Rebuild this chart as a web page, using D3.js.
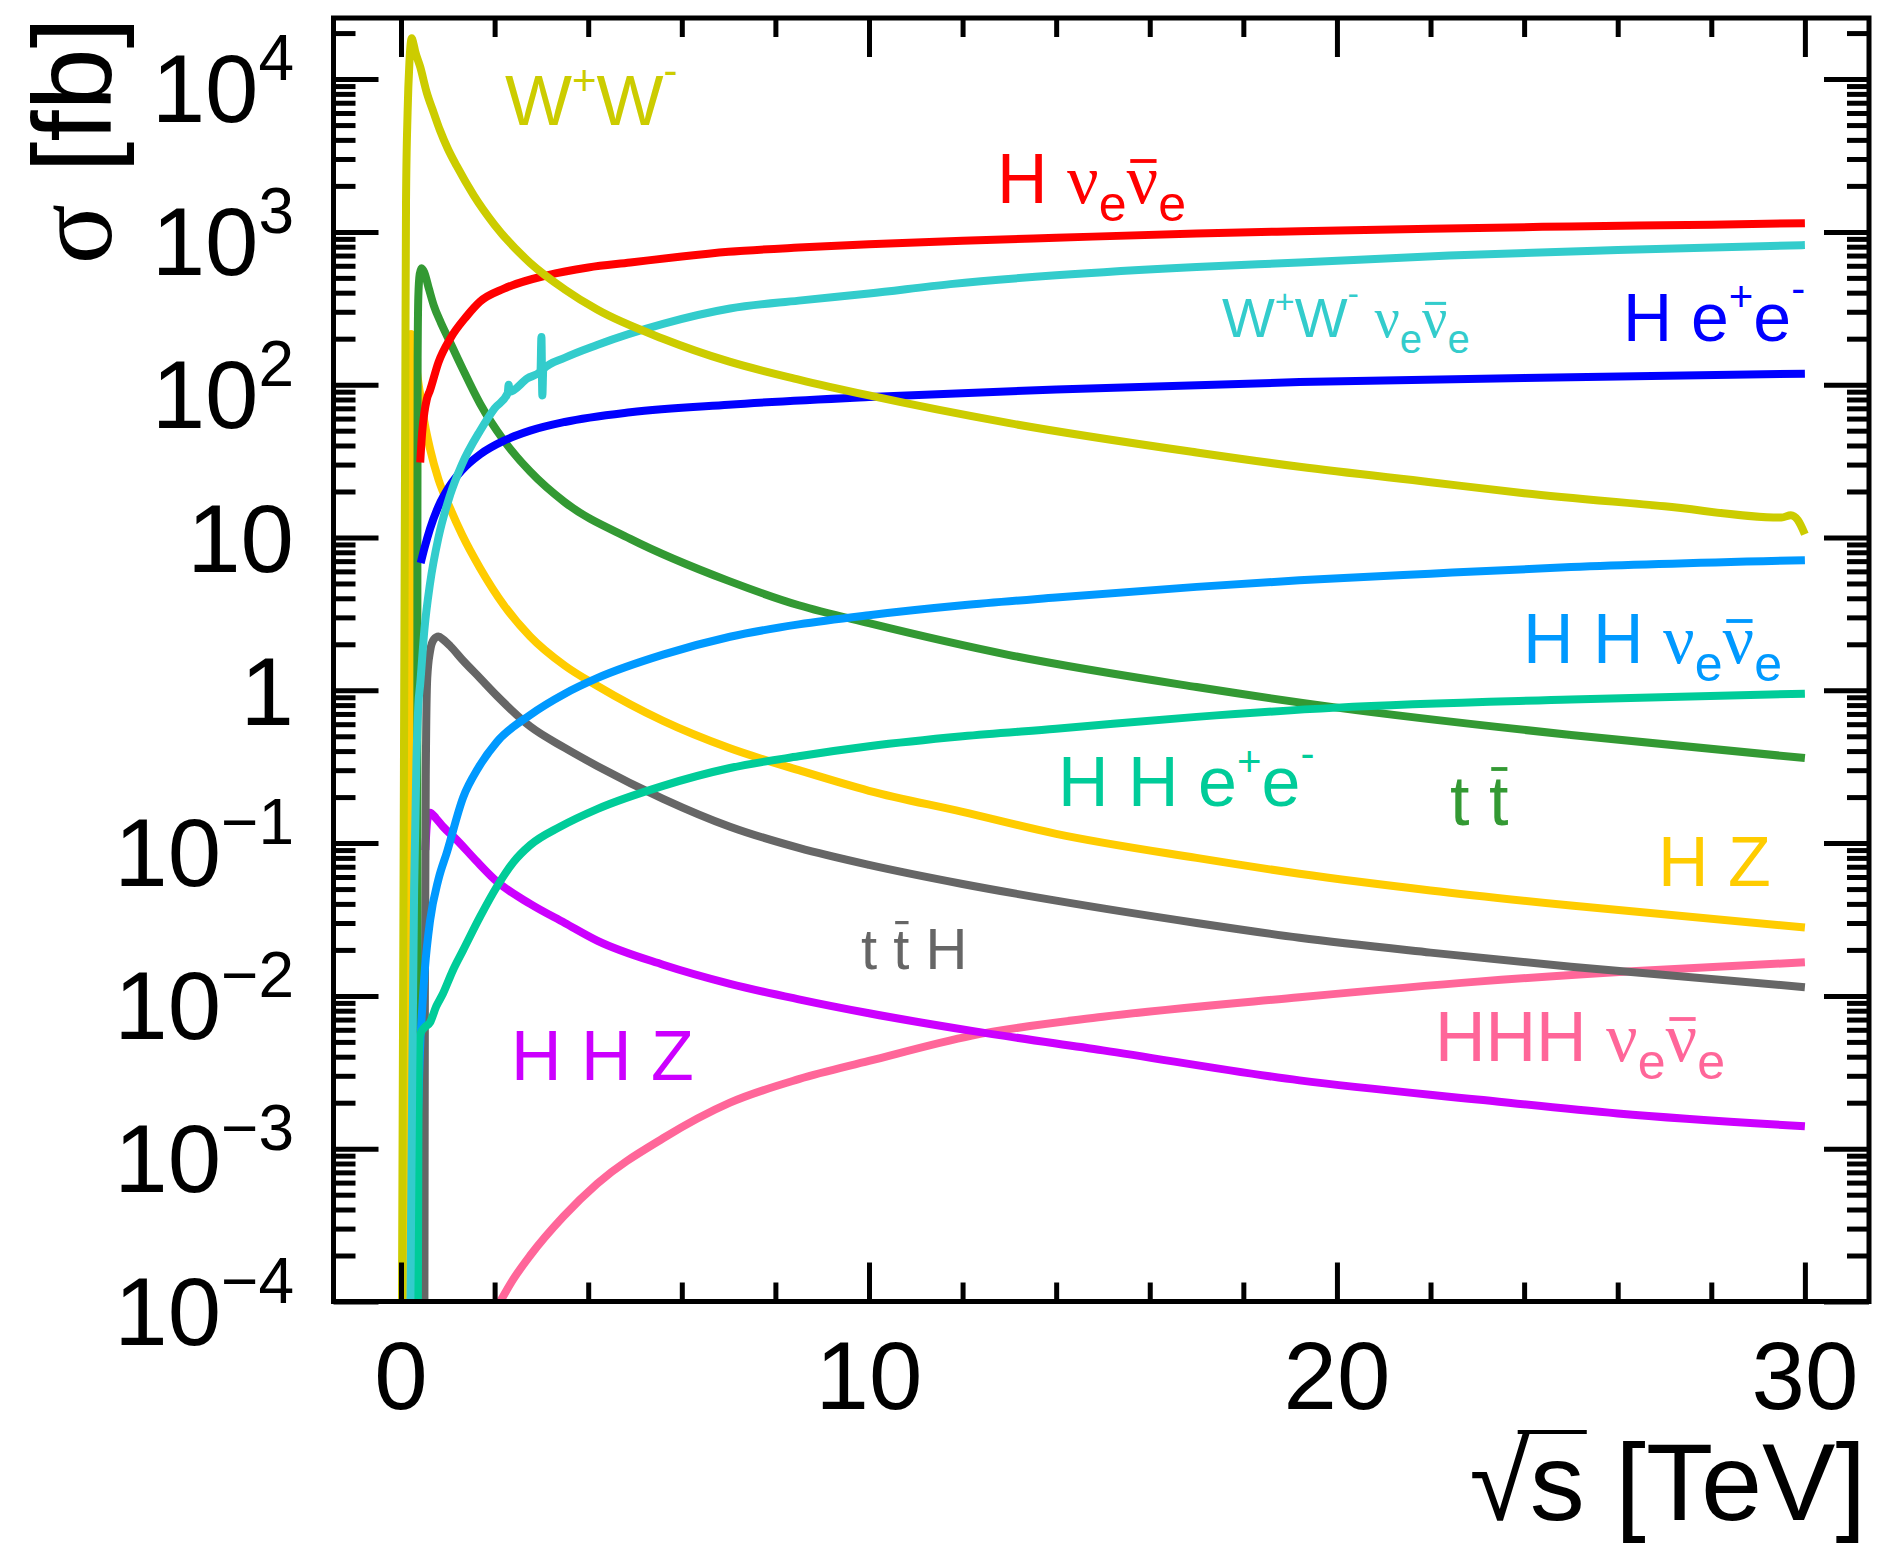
<!DOCTYPE html>
<html><head><meta charset="utf-8">
<script src="https://cdn.jsdelivr.net/npm/d3@7"></script>
<style>body{margin:0;background:#fff}svg{display:block}</style>
</head><body>
<svg id="c" width="1880" height="1553"></svg>
<script>
// ---------------- data ----------------
const xMajorTicks = [0, 10, 20, 30];
const xMinorTicks = [2,4,6,8,12,14,16,18,22,24,26,28];
const xTickLabels = ["0", "10", "20", "30"];
const yExponents = [-4,-3,-2,-1,0,1,2,3,4];
const xDomain = [-1.443, 31.37];
const yDomain = [1e-4, 25100];

// sqrt(s) [TeV], sigma [fb]
const sWW = [[0.02,1e-4],[0.045,0.01],[0.068,1],[0.092,100],[0.107,1620],[0.14,6000],[0.18,13000],[0.23,18500],[0.26,17300],[0.30,15300],[0.41,12000],[0.55,8150],[0.7,6000],[0.83,4640],[1.0,3500],[1.19,2700],[1.55,1740],[2.0,1110],[2.76,626],[3.5,420],[4.19,310],[5.6,200],[7.0,142],[8.5,108],[10,85],[13,56],[17,36],[19.2,29],[22,23],[24,19.5],[27,16],[29.5,13.5],[29.7,14],[29.85,13],[30.0,10.5]];
const sHnn = [[0.41,31],[0.45,48],[0.5,66],[0.55,80],[0.62,92],[0.8,140],[1.05,200],[1.4,280],[1.69,350],[2.2,425],[3.12,520],[4,585],[4.9,630],[6,690],[7,740],[8.5,790],[10,830],[12,875],[14,915],[17,975],[19.2,1010],[22,1050],[25,1085],[28,1115],[30,1140]];
const sWWnn = [[0.2,1e-4],[0.24,0.003],[0.28,0.05],[0.33,0.35],[0.37,0.8],[0.41,1.1],[0.5,2.5],[0.62,5],[0.8,10],[1.05,19],[1.3,30],[1.69,50],[2.0,70],[2.28,88],[2.3,100],[2.32,90],[2.7,110],[2.98,122],[3.0,205],[3.02,85],[3.04,126],[3.5,150],[4.19,182],[5.6,250],[7.03,315],[8.5,355],[10,395],[11.74,455],[14,520],[17,590],[19.2,630],[22.4,700],[26,760],[30,820]];
const sHee = [[0.42,6.8],[0.5,8.5],[0.62,11.4],[0.8,16],[1.05,22],[1.3,27.5],[1.69,35],[2.2,43],[2.76,50],[3.5,57],[4.9,66],[7,74],[10,83],[14,93],[19.2,104],[25,112],[30,118]];
const sHHnn = [[0.3,1e-4],[0.34,0.0008],[0.4,0.004],[0.46,0.009],[0.51,0.015],[0.62,0.031],[0.8,0.058],[0.98,0.087],[1.33,0.2],[1.65,0.31],[2.05,0.46],[2.76,0.69],[3.5,0.95],[4.19,1.2],[5.6,1.71],[7.03,2.24],[8.5,2.7],[10,3.1],[12,3.6],[14,4.05],[17,4.75],[19.2,5.25],[22,5.8],[25,6.4],[30,7.1]];
const sHHee = [[0.36,1e-4],[0.37,0.001],[0.38,0.004],[0.41,0.0056],[0.5,0.0062],[0.62,0.0067],[0.75,0.0085],[0.9,0.0104],[1.1,0.0145],[1.33,0.02],[1.69,0.033],[2.05,0.052],[2.4,0.075],[2.76,0.097],[3.4,0.128],[4.19,0.167],[5.6,0.237],[7.03,0.31],[8.5,0.37],[10,0.43],[12,0.5],[14,0.56],[17,0.67],[20,0.77],[25,0.87],[30,0.95]];
const sTT = [[0.345,1e-4],[0.35,10],[0.355,150],[0.37,380],[0.40,530],[0.44,578],[0.5,540],[0.6,420],[0.7,330],[0.85,255],[0.98,210],[1.3,130],[1.69,75],[2.2,43],[2.76,27],[3.5,17],[4.9,9.8],[7,5.2],[8.5,3.6],[10,2.75],[13,1.7],[17,1.05],[20,0.77],[25,0.51],[30,0.36]];
const sHZ = [[0.19,1e-4],[0.2,10],[0.205,120],[0.215,215],[0.25,200],[0.3,155],[0.35,115],[0.42,82],[0.5,57],[0.62,38],[0.8,24],[1.05,15.5],[1.3,10.5],[1.69,6.3],[2.2,3.6],[2.76,2.25],[3.5,1.45],[4.19,1.07],[5.6,0.63],[7,0.42],[8.5,0.3],[10,0.22],[12,0.16],[14,0.115],[17,0.08],[19.2,0.063],[22,0.049],[25,0.039],[30,0.028]];
const sTTH = [[0.5,1e-4],[0.51,0.01],[0.53,0.3],[0.56,1.2],[0.62,1.8],[0.7,2.15],[0.8,2.25],[0.9,2.15],[1.05,1.95],[1.33,1.56],[1.69,1.2],[2.05,0.92],[2.76,0.58],[3.5,0.42],[4.19,0.32],[5.6,0.195],[7.03,0.128],[8.5,0.093],[10,0.072],[12,0.054],[14,0.042],[17,0.030],[19.2,0.024],[22,0.0192],[25,0.0155],[30,0.0114]];
const sHHZ = [[0.52,0.09],[0.56,0.14],[0.62,0.158],[0.75,0.145],[0.9,0.128],[1.19,0.105],[1.6,0.077],[2.05,0.056],[2.76,0.04],[3.5,0.03],[4.19,0.023],[5.6,0.016],[7.03,0.012],[8.5,0.0095],[10,0.0077],[12.2,0.0059],[15,0.0044],[19.2,0.0028],[23,0.0021],[26,0.0017],[30,0.0014]];
const sHHHnn = [[2.12,1e-4],[2.4,1.4e-4],[2.76,2.0e-4],[3.47,3.6e-4],[4.19,5.9e-4],[5.6,1.17e-3],[7.03,2.0e-3],[8.5,2.85e-3],[10,3.75e-3],[12.2,5.5e-3],[15,7.3e-3],[19.2,9.8e-3],[23,0.0124],[26.3,0.0145],[30,0.0166]];

const seriesOrder = [
  {d:sHHHnn, c:"#ff6699"},
  {d:sHHZ,   c:"#cc00ff"},
  {d:sTTH,   c:"#666666"},
  {d:sHZ,    c:"#ffcc00"},
  {d:sTT,    c:"#339933"},
  {d:sHHnn,  c:"#0099ff"},
  {d:sHHee,  c:"#00cc99"},
  {d:sHee,   c:"#0000ff"},
  {d:sHnn,   c:"#ff0000"},
  {d:sWWnn,  c:"#33cccc"},
  {d:sWW,    c:"#cccc00"}
];

// ---------------- layout ----------------
const X0 = 333.5, X1 = 1869, Y0 = 18, Y1 = 1301.5;
const SANS = "'Liberation Sans', Arial, Helvetica, sans-serif";
const SERIF = "'Liberation Serif', 'Times New Roman', serif";

const svg = d3.select("#c");
svg.append("rect").attr("width",1880).attr("height",1553).attr("fill","#fff");

const x = d3.scaleLinear().domain(xDomain).range([X0, X1]);
const y = d3.scaleLog().domain(yDomain).range([Y1, Y0]);

svg.append("defs").append("clipPath").attr("id","clip")
  .append("rect").attr("x",X0).attr("y",Y0).attr("width",X1-X0).attr("height",Y1-Y0);

// curves
const line = d3.line().x(d=>x(d[0])).y(d=>y(d[1])).curve(d3.curveMonotoneX);
const gc = svg.append("g").attr("clip-path","url(#clip)");
seriesOrder.forEach(s=>{
  gc.append("path").attr("d", line(s.d)).attr("fill","none")
    .attr("stroke", s.c).attr("stroke-width",8).attr("stroke-linejoin","round");
});

// ticks via d3 axes
function styleAxis(g){ g.select(".domain").remove(); g.selectAll(".tick line").attr("stroke","#000").attr("stroke-width",5); g.selectAll(".tick text").remove(); }
const yMinor = [];
for (let e=-4;e<=4;e++) for (let k=2;k<=9;k++){ const v=k*Math.pow(10,e); if (v<=yDomain[1]) yMinor.push(v); }
const yMajor = yExponents.map(e=>Math.pow(10,e));

svg.append("g").attr("transform",`translate(0,${Y1})`).call(d3.axisBottom(x).tickValues(xMajorTicks).tickSize(-39).tickSizeOuter(0).tickFormat("")).call(styleAxis);
svg.append("g").attr("transform",`translate(0,${Y1})`).call(d3.axisBottom(x).tickValues(xMinorTicks).tickSize(-19).tickSizeOuter(0).tickFormat("")).call(styleAxis);
svg.append("g").attr("transform",`translate(0,${Y0})`).call(d3.axisTop(x).tickValues(xMajorTicks).tickSize(-39).tickSizeOuter(0).tickFormat("")).call(styleAxis);
svg.append("g").attr("transform",`translate(0,${Y0})`).call(d3.axisTop(x).tickValues(xMinorTicks).tickSize(-19).tickSizeOuter(0).tickFormat("")).call(styleAxis);
svg.append("g").attr("transform",`translate(${X0},0)`).call(d3.axisLeft(y).tickValues(yMajor).tickSize(-45).tickSizeOuter(0).tickFormat("")).call(styleAxis);
svg.append("g").attr("transform",`translate(${X0},0)`).call(d3.axisLeft(y).tickValues(yMinor).tickSize(-22).tickSizeOuter(0).tickFormat("")).call(styleAxis);
svg.append("g").attr("transform",`translate(${X1},0)`).call(d3.axisRight(y).tickValues(yMajor).tickSize(-45).tickSizeOuter(0).tickFormat("")).call(styleAxis);
svg.append("g").attr("transform",`translate(${X1},0)`).call(d3.axisRight(y).tickValues(yMinor).tickSize(-22).tickSizeOuter(0).tickFormat("")).call(styleAxis);

// frame
svg.append("rect").attr("x",X0).attr("y",Y0).attr("width",X1-X0).attr("height",Y1-Y0)
  .attr("fill","none").attr("stroke","#000").attr("stroke-width",5);

// x tick labels
svg.append("g").selectAll("text").data(xMajorTicks).join("text")
  .attr("x", d=>x(d)).attr("y", 1409).attr("text-anchor","middle")
  .attr("font-family",SANS).attr("font-size",96).attr("fill","#000")
  .text((d,i)=>xTickLabels[i]);

// y tick labels
const gyl = svg.append("g").attr("font-family",SANS).attr("fill","#000");
yExponents.forEach(e=>{
  const ty = y(Math.pow(10,e));
  if (e===0 || e===1) {
    gyl.append("text").attr("x",294).attr("y",ty+35).attr("text-anchor","end").attr("font-size",96).text(e===0?"1":"10");
  } else {
    const t = gyl.append("text").attr("x",294).attr("y",ty+43).attr("text-anchor","end").attr("font-size",96);
    t.append("tspan").text("10");
    t.append("tspan").attr("dy",-42).attr("font-size",64).text(e<0 ? "\u2212"+(-e) : String(e));
  }
});

// axis titles
const yt = svg.append("text").attr("transform","translate(111,17) rotate(-90)")
  .attr("text-anchor","end").attr("font-size",112).attr("fill","#000").style("white-space","pre");
yt.append("tspan").attr("font-family",SERIF).text("σ");
yt.append("tspan").attr("font-family",SANS).text(" [fb]");

const XT_Y = 1520;
const xt = svg.append("text").attr("x",1866).attr("y",XT_Y).attr("text-anchor","end")
  .attr("font-size",110).attr("font-family",SANS).attr("fill","#000").style("white-space","pre");
xt.append("tspan").text("√");
xt.append("tspan").text("s");
xt.append("tspan").text(" [TeV]");
{
  const n = xt.node();
  const r0 = n.getExtentOfChar(0), r1 = n.getExtentOfChar(1);
  svg.append("line").attr("x1", r0.x + r0.width*0.8).attr("x2", r1.x + r1.width + 2).attr("y1", XT_Y-88).attr("y2",XT_Y-88)
    .attr("stroke","#000").attr("stroke-width",4);
}

// in-plot labels
const gl = svg.append("g");
function rich(x0, y0, color, parts){
  const t = gl.append("text").attr("x",x0).attr("y",y0).attr("fill",color).style("white-space","pre");
  let idx = 0, cur = 0; const bars = [];
  parts.forEach(p=>{
    const off = p.dy||0;
    t.append("tspan").text(p.t).attr("dy", off - cur)
      .attr("font-size", p.s).attr("font-family", p.f || SANS);
    cur = off;
    if (p.bar) bars.push({i:idx, n:p.t.length, p});
    idx += p.t.length;
  });
  const node = t.node();
  bars.forEach(b=>{
    const r0 = node.getExtentOfChar(b.i), r1 = node.getExtentOfChar(b.i+b.n-1);
    const yb = y0 + (b.p.dy||0) - b.p.bar*b.p.s;
    gl.append("line").attr("x1", r0.x + r0.width*0.12).attr("x2", r1.x + r1.width*0.95)
      .attr("y1", yb).attr("y2", yb).attr("stroke", color).attr("stroke-width", Math.max(3, b.p.s*0.055));
  });
}
const NU = "ν";
rich(505, 125, "#cccc00", [{t:"W",s:71},{t:"+",s:42,dy:-30},{t:"W",s:71},{t:"-",s:42,dy:-40}]);
rich(997, 203, "#ff0000", [{t:"H ",s:70},{t:NU,s:70,f:SERIF},{t:"e",s:50,dy:18},{t:NU,s:70,f:SERIF,bar:0.6},{t:"e",s:50,dy:18}]);
rich(1222, 337, "#33cccc", [{t:"W",s:56},{t:"+",s:34,dy:-24},{t:"W",s:56},{t:"-",s:34,dy:-32},{t:" ",s:56},{t:NU,s:56,f:SERIF},{t:"e",s:40,dy:16},{t:NU,s:56,f:SERIF,bar:0.6},{t:"e",s:40,dy:16}]);
rich(1623, 341, "#0000ff", [{t:"H e",s:68},{t:"+",s:42,dy:-30},{t:"e",s:68},{t:"-",s:42,dy:-38}]);
rich(1523, 663, "#0099ff", [{t:"H H ",s:70},{t:NU,s:70,f:SERIF},{t:"e",s:50,dy:18},{t:NU,s:70,f:SERIF,bar:0.6},{t:"e",s:50,dy:18}]);
rich(1058, 806, "#00cc99", [{t:"H H e",s:70},{t:"+",s:42,dy:-30},{t:"e",s:70},{t:"-",s:42,dy:-38}]);
rich(1450, 825, "#339933", [{t:"t ",s:70},{t:"t",s:70,bar:0.8}]);
rich(1658, 886, "#ffcc00", [{t:"H Z",s:70}]);
rich(861, 969, "#666666", [{t:"t ",s:58},{t:"t",s:58,bar:0.8},{t:" H",s:58}]);
rich(511, 1080, "#cc00ff", [{t:"H H Z",s:70}]);
rich(1435, 1061, "#ff6699", [{t:"HHH ",s:70},{t:NU,s:70,f:SERIF},{t:"e",s:50,dy:18},{t:NU,s:70,f:SERIF,bar:0.6},{t:"e",s:50,dy:18}]);
</script>
</body></html>
